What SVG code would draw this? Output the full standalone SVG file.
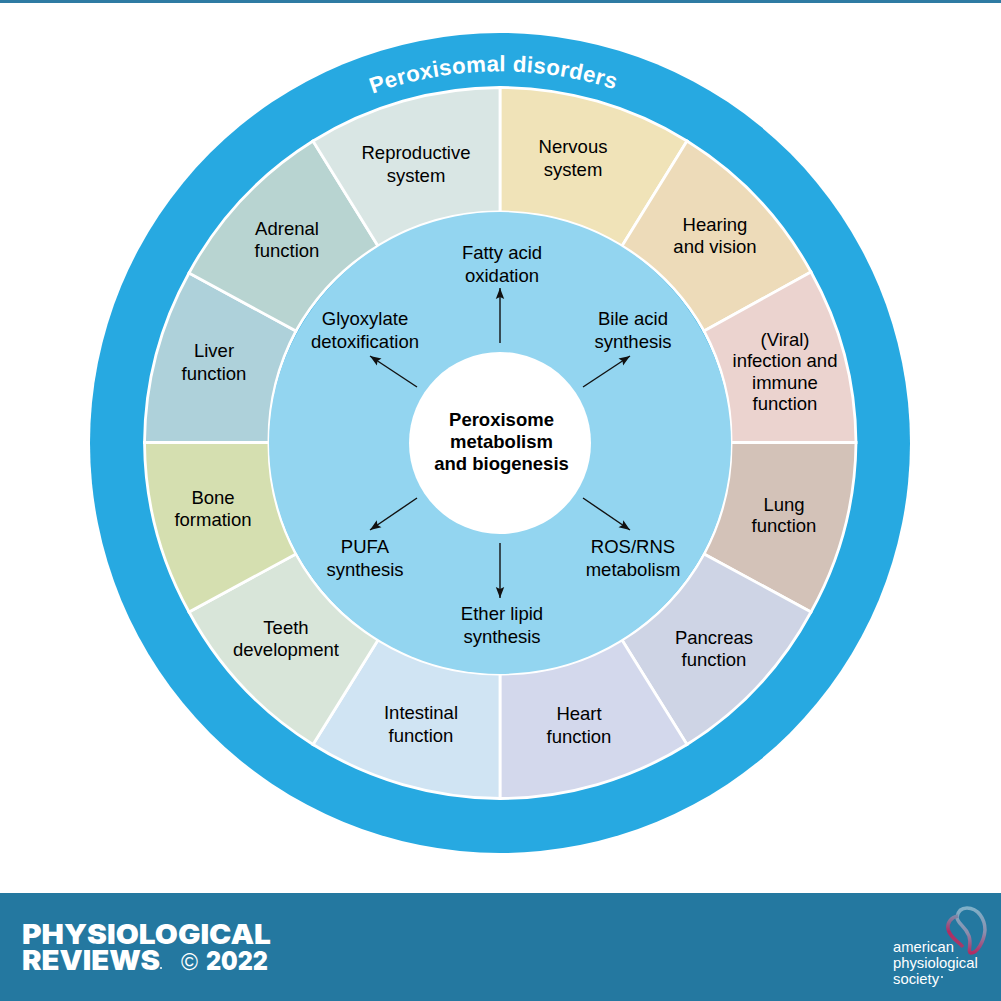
<svg xmlns="http://www.w3.org/2000/svg" width="1001" height="1001" viewBox="0 0 1001 1001">
<style>
.t{font-family:"Liberation Sans",Arial,sans-serif;font-size:18.5px;fill:#000;text-anchor:middle}
.w{stroke:#fff;stroke-width:2.8}
.a{stroke:#111;stroke-width:1.4;fill:none;marker-end:url(#h)}
.b{font-family:"Inter","Liberation Sans",sans-serif;font-weight:900;fill:#fff}
.l{font-family:"Liberation Sans",Arial,sans-serif;font-size:14.8px;fill:#fff}
</style>
<defs>
<marker id="h" markerUnits="userSpaceOnUse" markerWidth="12" markerHeight="10" refX="11" refY="5" orient="auto"><path d="M0 .8L11 5L0 9.2L2 5Z" fill="#111"/></marker>
<path id="arc" d="M352 102A372 372 0 0 1 648 102"/>
<linearGradient id="g1" x1="0" y1="0" x2="0" y2="1"><stop offset="0" stop-color="#7fb0c8"/><stop offset=".55" stop-color="#8a8fae"/><stop offset="1" stop-color="#b02d63"/></linearGradient>
<linearGradient id="g2" x1="0" y1="0" x2="0" y2="1"><stop offset="0" stop-color="#7f88a8"/><stop offset=".5" stop-color="#b02d63"/><stop offset="1" stop-color="#a63a68"/></linearGradient>
</defs>
<rect width="1001" height="1001" fill="#fff"/>
<rect y="0" width="1001" height="3" fill="#2f7ba3"/>
<circle id="outer-ring" cx="500" cy="443" r="410" fill="#27a9e1"/>
<text font-family="Liberation Sans,Arial,sans-serif" font-weight="700" font-size="22.3" fill="#fff" letter-spacing=".3"><textPath href="#arc" startOffset="47.8%" text-anchor="middle">Peroxisomal disorders</textPath></text>
<g id="segments" class="w">
<path id="seg-nervous" fill="#f0e3b8" d="M500 87.5A355.5 355.5 0 0 1 687 141L622 246A231 231 0 0 0 500 212Z"/>
<path id="seg-hearing" fill="#eddbb9" d="M687 141A355.5 355.5 0 0 1 811 272L704 331A231 231 0 0 0 622 246Z"/>
<path id="seg-infection" fill="#ebd3cf" d="M811 272A355.5 355.5 0 0 1 856 442.5H731A231 231 0 0 0 704 331Z"/>
<path id="seg-lung" fill="#d3c2b8" d="M856 442.5A355.5 355.5 0 0 1 811 612L704 554A231 231 0 0 0 731 442.5Z"/>
<path id="seg-pancreas" fill="#ced4e5" d="M811 612A355.5 355.5 0 0 1 687 744.5L622 640A231 231 0 0 0 704 554Z"/>
<path id="seg-heart" fill="#d3d8ec" d="M687 744.5A355.5 355.5 0 0 1 500 798.5V674A231 231 0 0 0 622 640Z"/>
<path id="seg-intestinal" fill="#d0e4f3" d="M500 798.5A355.5 355.5 0 0 1 313 744.5L378 640A231 231 0 0 0 500 674Z"/>
<path id="seg-teeth" fill="#d8e5d9" d="M313 744.5A355.5 355.5 0 0 1 189 612L296 554A231 231 0 0 0 378 640Z"/>
<path id="seg-bone" fill="#d5dfb0" d="M189 612A355.5 355.5 0 0 1 144.5 442.5H269A231 231 0 0 0 296 554Z"/>
<path id="seg-liver" fill="#aed1da" d="M144.5 442.5A355.5 355.5 0 0 1 189 273L296 331A231 231 0 0 0 269 442.5Z"/>
<path id="seg-adrenal" fill="#b8d4d1" d="M189 273A355.5 355.5 0 0 1 313 141L378 246A231 231 0 0 0 296 331Z"/>
<path id="seg-reproductive" fill="#d9e6e4" d="M313 141A355.5 355.5 0 0 1 500 87.5V212A231 231 0 0 0 378 246Z"/>
</g>
<circle id="inner-ring" cx="500" cy="443" r="231" fill="#93d5f0"/>
<g id="connectors">
<path class="a" d="M500 343V288"/>
<path class="a" d="M583 387L630 356"/>
<path class="a" d="M583 498L630 530"/>
<path class="a" d="M500 543V598"/>
<path class="a" d="M417 498L370 530"/>
<path class="a" d="M417 387L370 356"/>
</g>
<g id="center"><circle cx="500" cy="443" r="91" fill="#fff"/>
<text class="t" font-weight="700"><tspan x="501.500" y="425.500">Peroxisome</tspan><tspan x="501.500" y="447.500">metabolism</tspan><tspan x="501.500" y="469.500">and biogenesis</tspan></text></g>
<g id="labels-inner" transform="translate(0 .5)">
<text class="t" id="n-fatty"><tspan x="502" y="258">Fatty acid</tspan><tspan x="502" y="281">oxidation</tspan></text>
<text class="t" id="n-bile"><tspan x="633" y="324">Bile acid</tspan><tspan x="633" y="347">synthesis</tspan></text>
<text class="t" id="n-ros"><tspan x="633" y="552">ROS/RNS</tspan><tspan x="633" y="575">metabolism</tspan></text>
<text class="t" id="n-ether"><tspan x="502" y="619">Ether lipid</tspan><tspan x="502" y="642">synthesis</tspan></text>
<text class="t" id="n-pufa"><tspan x="365" y="552">PUFA</tspan><tspan x="365" y="575">synthesis</tspan></text>
<text class="t" id="n-gly"><tspan x="365" y="324">Glyoxylate</tspan><tspan x="365" y="347">detoxification</tspan></text>
</g>
<g id="labels-outer" transform="translate(0 .5)">
<text class="t"><tspan x="573" y="152">Nervous</tspan><tspan x="573" y="175">system</tspan></text>
<text class="t"><tspan x="715" y="230">Hearing</tspan><tspan x="715" y="252">and vision</tspan></text>
<text class="t"><tspan x="785" y="345">(Viral)</tspan><tspan x="785" y="366">infection and</tspan><tspan x="785" y="388">immune</tspan><tspan x="785" y="409">function</tspan></text>
<text class="t"><tspan x="784" y="510">Lung</tspan><tspan x="784" y="531">function</tspan></text>
<text class="t"><tspan x="714" y="643">Pancreas</tspan><tspan x="714" y="665">function</tspan></text>
<text class="t"><tspan x="579" y="719">Heart</tspan><tspan x="579" y="742">function</tspan></text>
<text class="t"><tspan x="421" y="718">Intestinal</tspan><tspan x="421" y="741">function</tspan></text>
<text class="t"><tspan x="286" y="633">Teeth</tspan><tspan x="286" y="655">development</tspan></text>
<text class="t"><tspan x="213" y="503">Bone</tspan><tspan x="213" y="525">formation</tspan></text>
<text class="t"><tspan x="214" y="356">Liver</tspan><tspan x="214" y="379">function</tspan></text>
<text class="t"><tspan x="287" y="234">Adrenal</tspan><tspan x="287" y="256">function</tspan></text>
<text class="t"><tspan x="416" y="158">Reproductive</tspan><tspan x="416" y="181">system</tspan></text>
</g>
<g id="footer">
<rect y="893" width="1001" height="108" fill="#2478a0"/>
<text class="b" x="22" y="943.5" font-size="27.5" textLength="249" lengthAdjust="spacingAndGlyphs">PHYSIOLOGICAL</text>
<text class="b" x="22" y="970" font-size="27.5" textLength="138" lengthAdjust="spacingAndGlyphs">REVIEWS</text>
<circle cx="161" cy="968" r="1" fill="#fff"/>
<text font-family="Liberation Sans,sans-serif" font-size="23" fill="#fff" x="181" y="970">©</text>
<text class="b" x="206" y="970" font-size="26" textLength="62" lengthAdjust="spacingAndGlyphs">2022</text>
<path d="M967 908C978 908 985 919 985 930C984 942 977 953 971 953C967 952 972 945 969 936C965 925 957 924 957 917C958 911 962 908 967 908Z" fill="none" stroke="url(#g1)" stroke-width="3.5"/>
<path d="M958 916C951 917 947 923 948 929C950 938 958 941 963 947" fill="none" stroke="url(#g2)" stroke-width="3.5"/>
<text class="l" x="893" y="952">american</text>
<text class="l" x="893" y="968">physiological</text>
<text class="l" x="893" y="984">society</text>
<circle cx="942" cy="977" r="1" fill="#fff"/>
</g>
</svg>
